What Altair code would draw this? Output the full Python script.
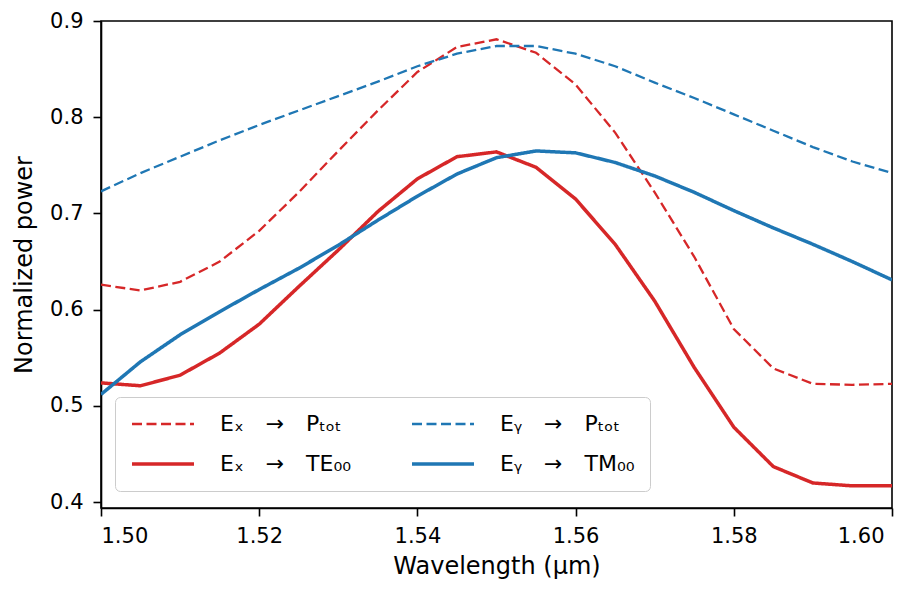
import altair as alt
import pandas as pd

wavelength = [1.500, 1.505, 1.510, 1.515, 1.520, 1.525, 1.530, 1.535, 1.540, 1.545,
              1.550, 1.555, 1.560, 1.565, 1.570, 1.575, 1.580, 1.585, 1.590, 1.595, 1.600]
ex_ptot = [0.626, 0.620, 0.629, 0.650, 0.682, 0.722, 0.765, 0.807, 0.847, 0.873,
           0.881, 0.867, 0.834, 0.784, 0.722, 0.655, 0.580, 0.539, 0.523, 0.522, 0.523]
ex_te00 = [0.524, 0.521, 0.532, 0.555, 0.585, 0.624, 0.662, 0.702, 0.736, 0.759,
           0.764, 0.748, 0.715, 0.668, 0.609, 0.540, 0.478, 0.437, 0.420, 0.417, 0.417]
ey_ptot = [0.723, 0.742, 0.759, 0.776, 0.792, 0.807, 0.822, 0.837, 0.853, 0.866,
           0.874, 0.874, 0.866, 0.853, 0.836, 0.820, 0.803, 0.786, 0.769, 0.754, 0.742]
ey_tm00 = [0.512, 0.546, 0.574, 0.598, 0.621, 0.643, 0.667, 0.693, 0.718, 0.741,
           0.758, 0.765, 0.763, 0.753, 0.739, 0.722, 0.703, 0.685, 0.668, 0.650, 0.631]

sp = "\u2003"
# legend fills column by column: column 1 = Ex entries, column 2 = Ey entries
labels = [f"Eₓ{sp}→{sp}Pₜₒₜ", f"Eₓ{sp}→{sp}TE₀₀", f"Eᵧ{sp}→{sp}Pₜₒₜ", f"Eᵧ{sp}→{sp}TM₀₀"]
colors = ["#d62728", "#d62728", "#1f77b4", "#1f77b4"]
dashes = [[10, 4.5], [1, 0], [10, 4.5], [1, 0]]
widths = [2.3, 3.5, 2.3, 3.5]
series_values = [ex_ptot, ex_te00, ey_ptot, ey_tm00]

x_ticks = [1.50, 1.52, 1.54, 1.56, 1.58, 1.60]
y_ticks = [0.4, 0.5, 0.6, 0.7, 0.8, 0.9]

rows = []
for lab, vals in zip(labels, series_values):
    for w, v in zip(wavelength, vals):
        rows.append({"series": lab, "wavelength": w, "power": v})
df = pd.DataFrame(rows)

FONT = "DejaVu Sans"

leg = alt.Legend(
    title=None, orient="none", legendX=14, legendY=376, columns=2,
    symbolType="stroke", symbolSize=3844, labelOffset=24, columnPadding=58,
    rowPadding=16, padding=15, clipHeight=24, fillColor="white", strokeColor="#cccccc",
    cornerRadius=5, labelFontSize=22, labelFont=FONT, labelColor="black",
    labelLimit=400,
)

chart = alt.Chart(df).mark_line(clip=True).encode(
    x=alt.X("wavelength:Q",
            scale=alt.Scale(domain=[1.5, 1.6], nice=False, zero=False),
            axis=alt.Axis(values=x_ticks, format=".2f", title="Wavelength (μm)",
                          labelPadding=9, titlePadding=8,
                          labelOffset={"condition": {"test": "datum.value > 1.599", "value": -8}, "value": 0})),
    y=alt.Y("power:Q",
            scale=alt.Scale(domain=[0.394, 0.9], nice=False, zero=False),
            axis=alt.Axis(values=y_ticks, format=".1f", title="Normalized power",
                          labelPadding=10, titlePadding=13)),
    color=alt.Color("series:N", scale=alt.Scale(domain=labels, range=colors), legend=leg),
    strokeDash=alt.StrokeDash("series:N", scale=alt.Scale(domain=labels, range=dashes), legend=leg),
    strokeWidth=alt.StrokeWidth("series:N", scale=alt.Scale(type="ordinal", domain=labels, range=widths), legend=leg),
).properties(
    width=791, height=487,
    autosize=alt.AutoSizeParams(type="none"),
    padding={"left": 93, "top": 13, "right": 16, "bottom": 74},
).configure_view(
    stroke="black", strokeWidth=1.6
).configure_axis(
    grid=False, domainColor="black", domainWidth=1.6, tickColor="black",
    tickWidth=1.6, tickSize=8, labelFont=FONT, labelFontSize=21, labelColor="black",
    titleFont=FONT, titleFontSize=24, titleFontWeight="normal", titleColor="black",
)

chart.save("out.html", embed_options={"renderer": "svg", "actions": False})
